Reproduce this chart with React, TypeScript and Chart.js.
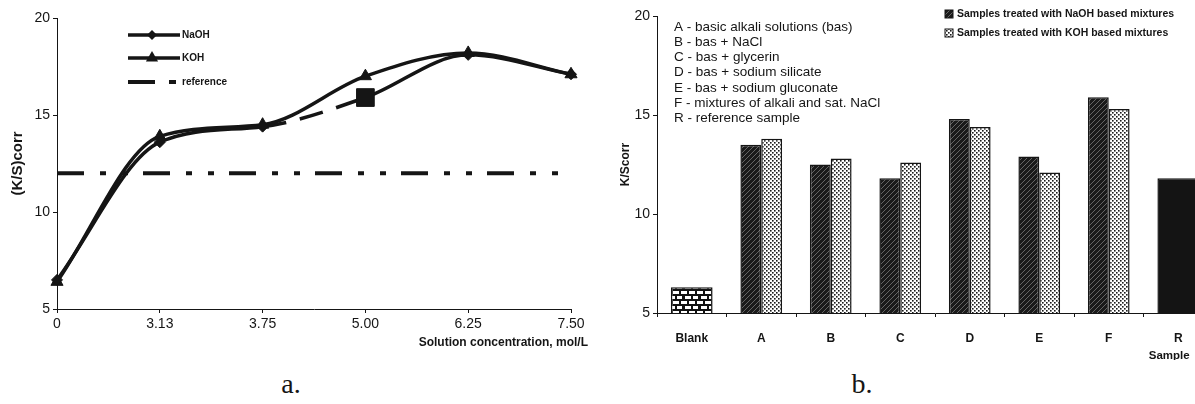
import React, { useEffect, useRef } from 'react';
import { Chart, registerables } from 'chart.js';

Chart.register(...registerables);

// ---------- data (chart a) ----------
const concLabels = ['0', '3.13', '3.75', '5.00', '6.25', '7.50'];
const naohLine = [6.5, 13.6, 14.4, 15.9, 18.1, 17.1];
const kohLine = [6.4, 13.9, 14.5, 17.0, 18.2, 17.1];
const referenceLine = [12, 12, 12, 12, 12, 12];
const lineYTicks = [5, 10, 15, 20];

// ---------- data (chart b) ----------
const sampleLabels = ['Blank', 'A', 'B', 'C', 'D', 'E', 'F', 'R'];
const naohBars = [null, 13.5, 12.5, 11.8, 14.8, 12.9, 15.9, null];
const kohBars = [null, 13.8, 12.8, 12.6, 14.4, 12.1, 15.3, null];
const controlBars = [6.3, null, null, null, null, null, null, 11.8];
const groupNotes = [
  'A - basic alkali solutions (bas)',
  'B - bas + NaCl',
  'C - bas + glycerin',
  'D - bas + sodium silicate',
  'E - bas + sodium gluconate',
  'F - mixtures of alkali and sat. NaCl',
  'R - reference sample',
];
const barLegend = ['Samples treated with NaOH based mixtures', 'Samples treated with KOH based mixtures'];

const SANS = '"Liberation Sans", Arial, sans-serif';
const INK = '#151515';

function makePattern(kind: string): any {
  const c = document.createElement('canvas');
  const ctx = c.getContext('2d') as CanvasRenderingContext2D;
  if (kind === 'hatch') {
    c.width = 5; c.height = 5;
    ctx.fillStyle = '#1a1a1a';
    ctx.fillRect(0, 0, 5, 5);
    ctx.strokeStyle = '#6e6e6e';
    ctx.lineWidth = 0.9;
    ctx.beginPath();
    ctx.moveTo(0, 5); ctx.lineTo(5, 0);
    ctx.moveTo(-2.5, 2.5); ctx.lineTo(2.5, -2.5);
    ctx.moveTo(2.5, 7.5); ctx.lineTo(7.5, 2.5);
    ctx.stroke();
  } else if (kind === 'dots') {
    c.width = 4; c.height = 4;
    ctx.fillStyle = '#ffffff';
    ctx.fillRect(0, 0, 4, 4);
    ctx.fillStyle = '#1a1a1a';
    ctx.fillRect(0, 0, 1.6, 1.6);
    ctx.fillRect(2, 2, 1.6, 1.6);
  } else {
    c.width = 16; c.height = 10;
    ctx.fillStyle = '#111';
    ctx.fillRect(0, 0, 16, 10);
    ctx.fillStyle = '#fff';
    ctx.fillRect(1, 1, 6, 3);
    ctx.fillRect(9, 1, 6, 3);
    ctx.fillRect(5, 6, 6, 3);
    ctx.fillRect(13, 6, 3, 3);
    ctx.fillRect(0, 6, 2, 3);
  }
  return ctx.createPattern(c, 'repeat');
}

function drawDiamond(ctx: CanvasRenderingContext2D, x: number, y: number, r: number) {
  ctx.beginPath();
  ctx.moveTo(x, y - r); ctx.lineTo(x + r, y); ctx.lineTo(x, y + r); ctx.lineTo(x - r, y);
  ctx.closePath(); ctx.fill();
}
function drawTriangle(ctx: CanvasRenderingContext2D, x: number, y: number, r: number) {
  ctx.beginPath();
  ctx.moveTo(x, y - r); ctx.lineTo(x + r * 0.87, y + r * 0.5); ctx.lineTo(x - r * 0.87, y + r * 0.5);
  ctx.closePath(); ctx.fill();
}

const lineDecor = {
  id: 'lineDecor',
  afterDraw(chart: any) {
    const { ctx, chartArea } = chart;
    ctx.save();
    ctx.strokeStyle = INK; ctx.fillStyle = INK;
    const rows = [
      { y: 35, label: 'NaOH', kind: 'diamond' },
      { y: 58, label: 'KOH', kind: 'triangle' },
      { y: 82, label: 'reference', kind: 'dash' },
    ];
    rows.forEach((r) => {
      ctx.lineWidth = r.kind === 'dash' ? 4 : 3.5;
      ctx.setLineDash(r.kind === 'dash' ? [27, 14, 7, 100] : []);
      ctx.beginPath(); ctx.moveTo(128, r.y); ctx.lineTo(r.kind === 'dash' ? 178 : 180, r.y); ctx.stroke();
      ctx.setLineDash([]);
      if (r.kind === 'diamond') drawDiamond(ctx, 152, r.y, 5);
      if (r.kind === 'triangle') drawTriangle(ctx, 152, r.y, 7);
      ctx.font = `bold 10px ${SANS}`;
      ctx.textAlign = 'left'; ctx.textBaseline = 'middle';
      ctx.fillText(r.label, 182, r.y);
    });
    ctx.font = `bold 12px ${SANS}`;
    ctx.textAlign = 'right'; ctx.textBaseline = 'middle';
    ctx.fillText('Solution concentration, mol/L', chartArea.right + 17, 343);
    ctx.restore();
  },
};

const barDecor = {
  id: 'barDecor',
  afterDraw(chart: any) {
    const { ctx } = chart;
    const xs = chart.scales.x;
    ctx.save();
    ctx.fillStyle = INK;
    ctx.font = `13.5px ${SANS}`;
    ctx.textAlign = 'left'; ctx.textBaseline = 'middle';
    groupNotes.forEach((t, i) => ctx.fillText(t, 74, 27 + i * 15.2));
    const fills = [chart.data.datasets[0].backgroundColor, chart.data.datasets[1].backgroundColor];
    barLegend.forEach((t, i) => {
      const y = 14 + i * 19;
      ctx.fillStyle = fills[i];
      ctx.fillRect(345, y - 4, 8, 8);
      ctx.strokeStyle = INK; ctx.lineWidth = 1;
      ctx.strokeRect(345, y - 4, 8, 8);
      ctx.fillStyle = INK;
      ctx.font = `bold 10.5px ${SANS}`;
      ctx.fillText(t, 357, y);
    });
    ctx.font = `bold 11.5px ${SANS}`;
    ctx.textAlign = 'center';
    ctx.fillText('Sample', xs.getPixelForValue(sampleLabels.length - 1) - 9, 356);
    ctx.restore();
  },
};

function LineChart() {
  const ref = useRef<HTMLCanvasElement>(null);
  useEffect(() => {
    const chart = new Chart(ref.current as HTMLCanvasElement, {
      type: 'line',
      data: {
        labels: concLabels,
        datasets: [
          {
            label: 'NaOH', data: naohLine, borderColor: INK, backgroundColor: INK,
            borderWidth: 3.5, cubicInterpolationMode: 'monotone',
            pointStyle: (c: any) => (c.dataIndex === 3 ? 'rect' : 'rectRot'),
            pointRadius: (c: any) => (c.dataIndex === 3 ? 12.5 : 5.5),
            pointBorderWidth: 1, pointBackgroundColor: INK, pointBorderColor: INK,
            segment: { borderDash: (c: any) => (c.p0DataIndex === 2 ? [24, 14] : undefined) },
          },
          {
            label: 'KOH', data: kohLine, borderColor: INK, backgroundColor: INK,
            borderWidth: 3.5, cubicInterpolationMode: 'monotone', pointStyle: 'triangle', pointRadius: 7,
            pointBorderWidth: 1, pointBackgroundColor: INK, pointBorderColor: INK,
          },
          {
            label: 'reference', data: referenceLine, borderColor: INK, borderWidth: 4,
            borderDash: [27, 16, 6, 16, 6, 15], pointRadius: 0, tension: 0,
          },
        ],
      } as any,
      options: {
        animation: false, responsive: false, maintainAspectRatio: false,
        layout: { padding: { left: 0, top: 18, right: 29, bottom: 9 } },
        plugins: { legend: { display: false }, tooltip: { enabled: false } },
        scales: {
          x: {
            offset: false,
            grid: { display: true, drawOnChartArea: false, tickLength: 4, color: INK },
            border: { color: INK, width: 1 },
            ticks: { color: INK, font: { family: SANS, size: 14 }, padding: 3, maxRotation: 0, autoSkip: false },
            afterFit: (s: any) => { s.height = 42; },
          },
          y: {
            min: 5, max: 20,
            afterBuildTicks: (s: any) => { s.ticks = lineYTicks.map((v) => ({ value: v })); },
            grid: { display: true, drawOnChartArea: false, tickLength: 4, color: INK },
            border: { color: INK, width: 1 },
            ticks: { color: INK, font: { family: SANS, size: 14 }, padding: 3 },
            title: { display: true, text: '(K/S)corr', color: INK, font: { family: SANS, size: 15, weight: 'bold' }, padding: { top: 9, bottom: 0 } },
            afterFit: (s: any) => { s.width = 57; },
          },
        },
      } as any,
      plugins: [lineDecor],
    });
    return () => chart.destroy();
  }, []);
  return <canvas ref={ref} width={600} height={360} style={{ position: 'absolute', left: 0, top: 0, width: 600, height: 360 }} />;
}

function BarChart() {
  const ref = useRef<HTMLCanvasElement>(null);
  useEffect(() => {
    const hatch = makePattern('hatch');
    const dots = makePattern('dots');
    const brick = makePattern('brick');
    const chart = new Chart(ref.current as HTMLCanvasElement, {
      type: 'bar',
      data: {
        labels: sampleLabels,
        datasets: [
          { label: barLegend[0], data: naohBars, backgroundColor: hatch, borderColor: INK, borderWidth: 1.5, categoryPercentage: 0.6, barPercentage: 1 },
          { label: barLegend[1], data: kohBars, backgroundColor: dots, borderColor: INK, borderWidth: 1.5, categoryPercentage: 0.6, barPercentage: 1 },
          {
            label: 'control', data: controlBars, grouped: false,
            backgroundColor: (c: any) => (c.dataIndex === 0 ? brick : '#141414'),
            borderColor: INK, borderWidth: 1.5, categoryPercentage: 0.6, barPercentage: 1,
          },
        ],
      } as any,
      options: {
        animation: false, responsive: false, maintainAspectRatio: false,
        layout: { padding: { left: 0, top: 16, right: 7, bottom: 0 } },
        plugins: { legend: { display: false }, tooltip: { enabled: false } },
        scales: {
          x: {
            grid: { display: true, drawOnChartArea: false, tickLength: 4, color: INK, offset: true },
            border: { color: INK, width: 1 },
            ticks: { color: INK, font: { family: SANS, size: 12, weight: 'bold' }, padding: 14, maxRotation: 0, autoSkip: false },
            afterFit: (s: any) => { s.height = 47; },
          },
          y: {
            min: 5, max: 20,
            afterBuildTicks: (s: any) => { s.ticks = lineYTicks.map((v) => ({ value: v })); },
            grid: { display: true, drawOnChartArea: false, tickLength: 4, color: INK },
            border: { color: INK, width: 1 },
            ticks: { color: INK, font: { family: SANS, size: 14 }, padding: 3 },
            title: { display: true, text: 'K/Scorr', color: INK, font: { family: SANS, size: 12, weight: 'bold' }, padding: { top: 18, bottom: 0 } },
            afterFit: (s: any) => { s.width = 57; },
          },
        },
      } as any,
      plugins: [barDecor],
    });
    return () => chart.destroy();
  }, []);
  return <canvas ref={ref} width={620} height={360} style={{ position: 'absolute', left: 600, top: 0, width: 620, height: 360 }} />;
}

const captionStyle: React.CSSProperties = {
  position: 'absolute', top: 370, width: 60, textAlign: 'center',
  fontFamily: '"Liberation Serif", "Times New Roman", serif', fontSize: 28, lineHeight: '28px', color: INK,
};

export default function App() {
  return (
    <div style={{ position: 'fixed', left: 0, top: 0, width: 1195, height: 404, overflow: 'hidden', background: '#fff' }}>
      <LineChart />
      <BarChart />
      <div style={{ ...captionStyle, left: 261 }}>a.</div>
      <div style={{ ...captionStyle, left: 832 }}>b.</div>
    </div>
  );
}
